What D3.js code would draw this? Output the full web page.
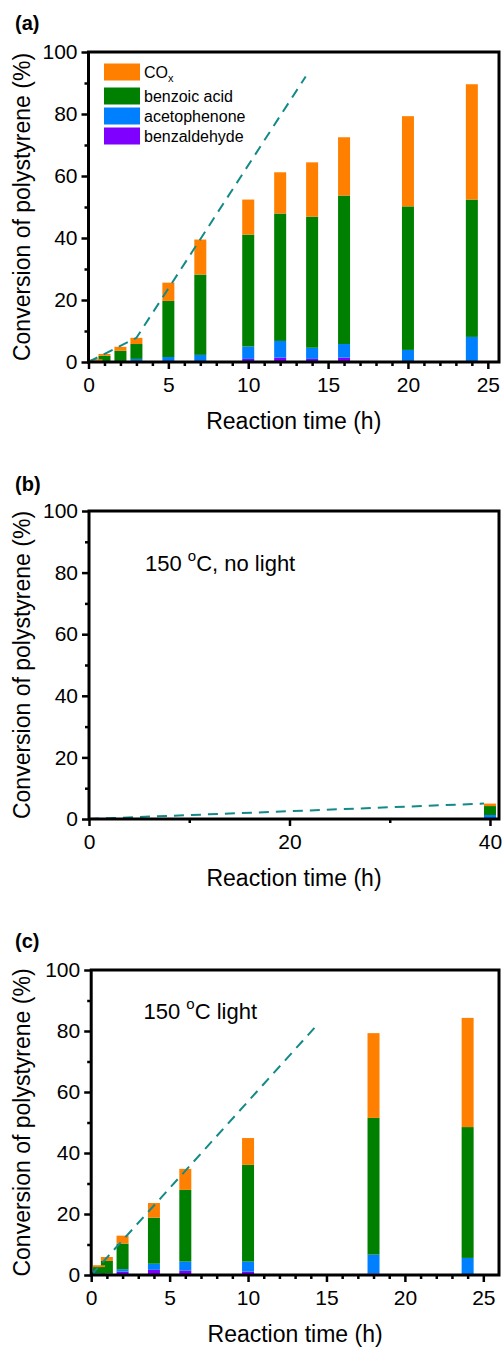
<!DOCTYPE html>
<html>
<head>
<meta charset="utf-8">
<script src="https://cdn.jsdelivr.net/npm/d3@7"></script>
<style>
  body { margin: 0; background: #fff; }
  svg { display: block; font-family: "Liberation Sans", Arial, sans-serif; }
</style>
</head>
<body>
<svg id="chart" width="502" height="1351"></svg>
<script>
// stack order, bottom to top
const KEYS = ['benzaldehyde', 'acetophenone', 'benzoic', 'cox'];
const COLORS = { benzaldehyde: '#8000ff', acetophenone: '#0080ff', benzoic: '#008000', cox: '#ff8000' };
const LEGEND_ORDER = ['cox', 'benzoic', 'acetophenone', 'benzaldehyde'];
const LEGEND_LABELS = { cox: 'CO', benzoic: 'benzoic acid', acetophenone: 'acetophenone', benzaldehyde: 'benzaldehyde' };

// (a) light, products (%) per reaction time (h)
const timeA         = [0.5, 1,   2,   3,   5,    7,    10,   12,   14,   16,   20,   24];
const benzaldehydeA = [0,   0,   0,   0,   0,    0,    1.0,  1.4,  1.0,  1.4,  0,    0];
const acetophenoneA = [0,   0,   0,   1.0, 1.6,  2.3,  4.0,  5.4,  3.6,  4.4,  3.9,  8.1];
const benzoicA      = [0.2, 2.0, 3.6, 4.8, 18.1, 25.9, 36.1, 41.1, 42.3, 47.9, 46.3, 44.3];
const coxA          = [0.7, 0.6, 1.3, 2.0, 5.9,  11.3, 11.3, 13.3, 17.5, 18.8, 29.1, 37.2];
const lineTimeA = [0, 3, 13.6];
const lineConvA = [0, 7.8, 92.1];

// (b) 150 °C, no light
const timeB         = [40];
const benzaldehydeB = [0];
const acetophenoneB = [1.3];
const benzoicB      = [2.9];
const coxB          = [0.8];
const lineTimeB = [0, 39.4];
const lineConvB = [0, 5.0];

// (c) 150 °C light
const timeC         = [0.5, 1,   2,   4,    6,    10,   18,   24];
const benzaldehydeC = [0.3, 0.5, 1.1, 1.7,  1.4,  1.1,  0.5,  0];
const acetophenoneC = [0.3, 0,   0.8, 2.0,  3.0,  3.3,  6.2,  5.6];
const benzoicC      = [2.0, 4.1, 8.4, 15.1, 23.5, 31.7, 44.8, 42.9];
const coxC          = [0.6, 1.3, 2.6, 4.8,  6.9,  8.8,  27.8, 35.8];
const lineTimeC = [0, 14.3];
const lineConvC = [0, 81.4];

const yTicks = [0, 20, 40, 60, 80, 100];
const yMinor = [10, 30, 50, 70, 90];

const BAR_W = 12;
const svg = d3.select('#chart');

function drawPanel(p) {
  const x = d3.scaleLinear().domain([0, p.xMax]).range([p.left, p.right]);
  const y = d3.scaleLinear().domain([0, 100]).range([p.bottom, p.top]);
  const g = svg.append('g');

  const rows = p.times.map((t, i) => ({
    t,
    benzaldehyde: p.benzaldehyde[i],
    acetophenone: p.acetophenone[i],
    benzoic:      p.benzoic[i],
    cox:          p.cox[i],
  }));
  const stacked = d3.stack().keys(KEYS)(rows);

  g.selectAll('.layer')
    .data(stacked)
    .join('g').attr('class', 'layer')
    .attr('fill', d => COLORS[d.key])
    .selectAll('rect')
    .data(d => d)
    .join('rect')
    .attr('x', d => x(d.data.t) - BAR_W / 2)
    .attr('width', BAR_W)
    .attr('y', d => y(d[1]))
    .attr('height', d => y(d[0]) - y(d[1]));

  const line = d3.line().x(d => x(d[0])).y(d => y(d[1]));
  g.append('path')
    .datum(d3.zip(p.lineT, p.lineV))
    .attr('d', line)
    .attr('fill', 'none')
    .attr('stroke', '#138a88')
    .attr('stroke-width', 2)
    .attr('stroke-dasharray', '10,7');

  // minor ticks
  g.append('g')
    .attr('transform', `translate(0,${p.bottom})`)
    .call(d3.axisBottom(x).tickValues(p.xMinor).tickSize(4).tickFormat(''))
    .call(a => a.select('.domain').remove())
    .selectAll('line').attr('stroke-width', 2.5);
  g.append('g')
    .attr('transform', `translate(${p.left},0)`)
    .call(d3.axisLeft(y).tickValues(yMinor).tickSize(4).tickFormat(''))
    .call(a => a.select('.domain').remove())
    .selectAll('line').attr('stroke-width', 2.5);

  // major ticks + labels
  const xa = g.append('g')
    .attr('transform', `translate(0,${p.bottom})`)
    .call(d3.axisBottom(x).tickValues(p.xTicks).tickSize(7).tickPadding(8).tickFormat(d3.format('d')));
  const ya = g.append('g')
    .attr('transform', `translate(${p.left},0)`)
    .call(d3.axisLeft(y).tickValues(yTicks).tickSize(7).tickPadding(4));
  [xa, ya].forEach(a => {
    a.select('.domain').remove();
    a.attr('font-family', null).attr('font-size', 21);
    a.selectAll('line').attr('stroke-width', 2.5);
    a.selectAll('text').attr('fill', '#000');
  });

  // frame
  g.append('rect')
    .attr('x', p.left).attr('y', p.top)
    .attr('width', p.right - p.left).attr('height', p.bottom - p.top)
    .attr('fill', 'none').attr('stroke', '#000').attr('stroke-width', 3);

  // titles
  g.append('text')
    .attr('x', (p.left + p.right) / 2).attr('y', p.bottom + 66.5)
    .attr('text-anchor', 'middle').attr('font-size', 23)
    .text('Reaction time (h)');
  g.append('text')
    .attr('transform', `translate(29.5,${(p.top + p.bottom) / 2}) rotate(-90)`)
    .attr('text-anchor', 'middle').attr('font-size', 23)
    .text('Conversion of polystyrene (%)');
  g.append('text')
    .attr('x', 15).attr('y', p.labelY)
    .attr('font-size', 20).attr('font-weight', 'bold')
    .text(p.label);

  if (p.note) {
    const t = g.append('text')
      .attr('x', p.noteX).attr('y', p.noteY).attr('font-size', 22);
    t.append('tspan').text('150 ');
    t.append('tspan').attr('font-size', 15).attr('dy', -10).text('o');
    t.append('tspan').attr('dy', 10).text(p.note);
  }
  return { g, x, y };
}

const a = drawPanel({
  label: '(a)', labelY: 29.5,
  left: 88.5, right: 499, top: 52, bottom: 362, xMax: 25.7,
  xTicks: [0, 5, 10, 15, 20, 25],
  xMinor: d3.range(1, 26).filter(v => v % 5 !== 0),
  times: timeA, benzaldehyde: benzaldehydeA, acetophenone: acetophenoneA, benzoic: benzoicA, cox: coxA,
  lineT: lineTimeA, lineV: lineConvA,
});

drawPanel({
  label: '(b)', labelY: 491,
  left: 89, right: 499, top: 511, bottom: 819, xMax: 40.9,
  xTicks: [0, 20, 40],
  xMinor: [10, 30],
  times: timeB, benzaldehyde: benzaldehydeB, acetophenone: acetophenoneB, benzoic: benzoicB, cox: coxB,
  lineT: lineTimeB, lineV: lineConvB,
  note: 'C, no light', noteX: 145, noteY: 571,
});

drawPanel({
  label: '(c)', labelY: 948,
  left: 91.2, right: 499, top: 970, bottom: 1275, xMax: 26,
  xTicks: [0, 5, 10, 15, 20, 25],
  xMinor: d3.range(1, 26).filter(v => v % 5 !== 0),
  times: timeC, benzaldehyde: benzaldehydeC, acetophenone: acetophenoneC, benzoic: benzoicC, cox: coxC,
  lineT: lineTimeC, lineV: lineConvC,
  note: 'C light', noteX: 143.5, noteY: 1019,
});

// legend in panel (a)
const legendRowY = [63.5, 87.5, 107.5, 127.5];
const legend = a.g.append('g').attr('class', 'legend');
LEGEND_ORDER.forEach((k, i) => {
  legend.append('rect')
    .attr('x', 104).attr('y', legendRowY[i])
    .attr('width', 36).attr('height', 17)
    .attr('fill', COLORS[k]);
  const t = legend.append('text')
    .attr('x', 144).attr('y', legendRowY[i] + 8.5).attr('dy', '0.36em')
    .attr('font-size', 16)
    .text(LEGEND_LABELS[k]);
  if (k === 'cox') {
    t.append('tspan').attr('font-size', 11).attr('dy', 4).text('x');
  }
});
</script>
</body>
</html>
